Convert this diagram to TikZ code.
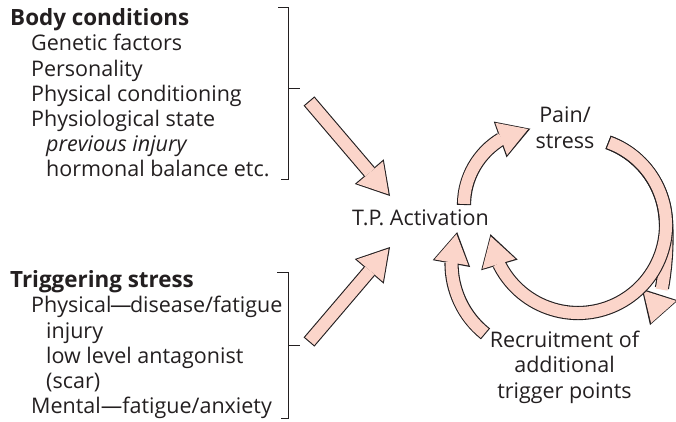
\documentclass[tikz,border=0pt]{standalone}
\usepackage{fontspec}
\setmainfont{Open Sans}
\usetikzlibrary{arrows.meta,bending,calc}
\definecolor{arrowpink}{RGB}{251,213,202}
\definecolor{inkgray}{RGB}{35,31,32}

\tikzset{
  fat/.style={draw=arrowpink, line width=12pt, shorten <=1.1pt, shorten >=2.2pt,
    -{Triangle[width=34.4pt,length=28.7pt,line width=0pt]},
    preaction={draw=inkgray, line width=14.2pt, shorten <=0pt, shorten >=0pt,
      -{Triangle[width=38pt,length=32pt,line width=0pt]}}},
  bracket/.style={draw=inkgray, line width=0.9pt},
  block/.style={align=left, anchor=north west},
  every node/.style={text=inkgray, font=\fontsize{21.5}{25.2}\selectfont, inner sep=0pt}
}

\begin{document}
\begin{tikzpicture}[x=1pt,y=1pt]
  \useasboundingbox (0,0) rectangle (676,421);

  % causes on the left
  \node[block] (body) at (10,412.6) {{\fontsize{22.4}{25.2}\selectfont\bfseries Body conditions}\\
    \hspace*{21pt}Genetic factors\\
    \hspace*{21pt}Personality\\
    \hspace*{21pt}Physical conditioning\\
    \hspace*{21pt}Physiological state\\
    \hspace*{36pt}\textit{previous injury}\\
    \hspace*{36pt}hormonal balance etc.};
  \node[block] (trigger) at (10,150.6) {{\fontsize{22.4}{25.2}\selectfont\bfseries Triggering stress}\\
    \hspace*{21pt}Physical\kern-1.5pt—\kern-1.5pt disease/fatigue\\
    \hspace*{36pt}injury\\
    \hspace*{36pt}low level antagonist\\
    \hspace*{36pt}(scar)\\
    \hspace*{21pt}Mental—fatigue/anxiety};

  % brackets
  \draw[bracket] (278,414) -- (288,414) -- (288,242) -- (281,242);
  \draw[bracket] (288,333) -- (300,333) coordinate (body tick);
  \draw[bracket] (277,149) -- (288,149) -- (288,3) -- (281,3);
  \draw[bracket] (288,76) -- (300,76) coordinate (trigger tick);

  % the cycle
  \node[anchor=base] (tpa) at (420.5,196) {T.P. Activation};
  \node[align=center, anchor=north] (pain) at (565,314) {Pain/\\stress};
  \node[align=center, anchor=north] (recruit) at (564.5,90) {Recruitment of\\additional\\trigger points};

  \coordinate (body out) at ($(body tick)+(9,-13)$);
  \coordinate (trigger out) at ($(trigger tick)+(9,3)$);
  \coordinate (tpa in1) at ($(tpa.base)+(-30.5,29)$);
  \coordinate (tpa in2) at ($(tpa.base)+(-30.5,-22)$);
  \coordinate (tpa up) at (464,216);
  \coordinate (loop) at (578,196);
  \coordinate (pain tail) at ($(loop)+(70:88)$);
  \coordinate (recruit tip) at (650,96);
  \coordinate (recruit back) at (485.5,87.1);

  \draw[fat] (body out) -- (tpa in1);
  \draw[fat] (trigger out) -- (tpa in2);
  \draw[fat] (tpa up) arc[start angle=180, end angle=98, radius=77];
  \draw[fat] (pain tail) arc[start angle=70, end angle=15, radius=88]
    .. controls +(-75:30) and +(59.3:30) .. (recruit tip);
  \draw[fat] (pain tail) arc[start angle=70, end angle=-174, radius=88];
  \draw[fat] (recruit back) arc[start angle=231.5, end angle=159.6, radius=90];
\end{tikzpicture}
\end{document}
